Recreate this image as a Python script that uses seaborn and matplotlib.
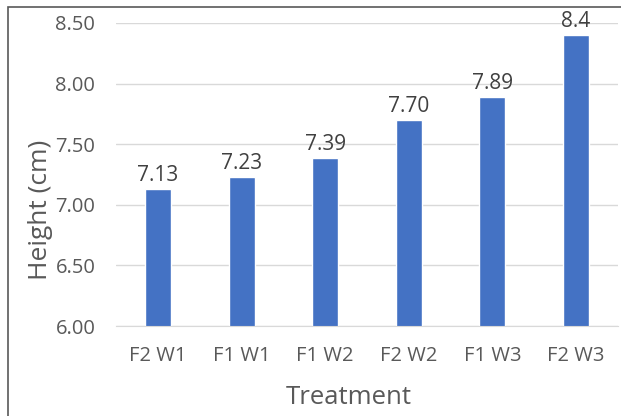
import pandas as pd
import seaborn as sns
import matplotlib.pyplot as plt
from matplotlib.patches import Rectangle

treatments = ['F2 W1', 'F1 W1', 'F1 W2', 'F2 W2', 'F1 W3', 'F2 W3']
heights = [7.13, 7.23, 7.39, 7.70, 7.89, 8.40]
value_labels = ['7.13', '7.23', '7.39', '7.70', '7.89', '8.4']
y_ticks = [6.00, 6.50, 7.00, 7.50, 8.00, 8.50]

df = pd.DataFrame({'Treatment': treatments, 'Height': heights})

sns.set_style('white')
plt.rcParams['font.family'] = ['Open Sans', 'DejaVu Sans']
text_color = '#595959'

fig = plt.figure(figsize=(6.21, 4.16), dpi=100)
ax = fig.add_axes([0.187, 0.216, 0.808, 0.729])

sns.barplot(data=df, x='Treatment', y='Height', color='#4472C4',
            saturation=1, width=0.31, ax=ax)

ax.set_ylim(6, 8.5)
ax.set_yticks(y_ticks)
ax.set_yticklabels([f'{t:.2f}' for t in y_ticks])
ax.grid(axis='y', color='#D9D9D9', linewidth=1)
ax.set_axisbelow(True)
for side in ['top', 'right', 'left']:
    ax.spines[side].set_visible(False)
ax.spines['bottom'].set_color('#D9D9D9')
ax.tick_params(axis='both', length=0, labelsize=14.5, colors=text_color)
ax.tick_params(axis='x', pad=14)
ax.tick_params(axis='y', pad=15)

ax.bar_label(ax.containers[0], labels=value_labels, padding=2,
             fontsize=15, color='#404040')

# axis titles are centred on the chart area, like in Excel
ax.set_xlabel('Treatment', fontsize=18.5, color=text_color, va='center')
ax.xaxis.set_label_coords(0.464, -0.234)
ax.set_ylabel('Height (cm)', fontsize=19, color=text_color, va='center')
ax.yaxis.set_label_coords(-0.151, 0.383)

# chart frame
fig.patches.append(Rectangle((8 / 621, -0.05), 1.2, 1 - 7 / 416 + 0.05,
                             transform=fig.transFigure, fill=False,
                             edgecolor='#595959', linewidth=1.2))

fig.savefig('out.png', dpi=100)
